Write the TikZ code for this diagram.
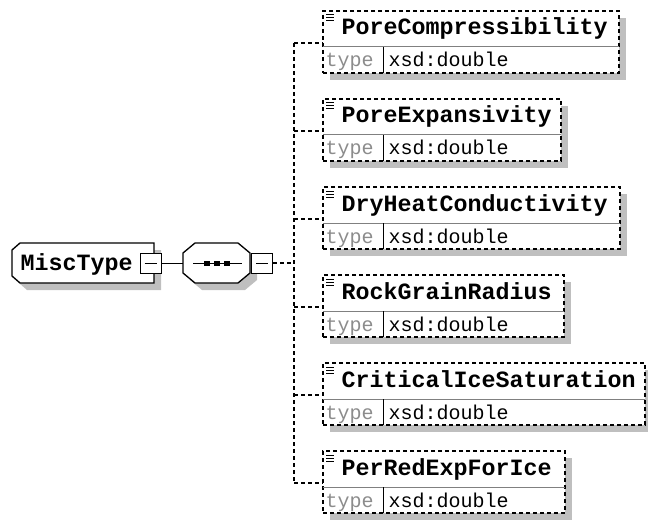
\documentclass[tikz,border=0pt]{standalone}
\usepackage{fontspec}
\newfontfamily\xmono{Liberation Mono}
\usetikzlibrary{fit,shadows}
\newcommand\hdfont{\xmono\bfseries\fontsize{17.5pt}{18pt}\selectfont}
\newcommand\tyfont{\xmono\fontsize{15pt}{16pt}\selectfont}
\definecolor{shadowgray}{gray}{0.75}
\definecolor{typegray}{gray}{0.55}
\definecolor{divgray}{gray}{0.5}
\begin{document}
\begin{tikzpicture}[x=0.75pt,y=-0.75pt,line width=0.75pt,
  dashconn/.style={line width=1pt,dash pattern=on 3pt off 2.25pt},
  elembox/.style={draw,fill=white,inner sep=0pt,line width=1pt,dash pattern=on 3pt off 2.25pt,
    drop shadow={shadow xshift=5.25pt,shadow yshift=-5.25pt,opacity=1,fill=shadowgray}},
  pmbox/.style={draw,fill=white,minimum width=15.75pt,minimum height=15pt,inner sep=0pt},
  label text/.style={anchor=base west,inner sep=0pt}]
\useasboundingbox (0,0) rectangle (648,520);

% MiscType (complex type)
\fill[shadowgray,shift={(7,7)}] (20,243) -- (154,243) -- (154,283) -- (20,283) -- (12,276) -- (12,250) -- cycle;
\draw[fill=white,line width=1pt] (20,243) -- (154,243) -- (154,283) -- (20,283) -- (12,276) -- (12,250) -- cycle;
\node[label text,font=\hdfont] (misc) at (20,270) {MiscType};
\node[pmbox] (miscbox) at (150.5,263) {};
\draw (miscbox.center) ++(-6,0) -- ++(12,0);

% sequence compositor
\fill[shadowgray,shift={(7,7)}] (195,243) -- (238,243) -- (250,253) -- (250,273) -- (238,283) -- (195,283) -- (183,273) -- (183,253) -- cycle;
\draw[fill=white,line width=1pt] (195,243) -- (238,243) -- (250,253) -- (250,273) -- (238,283) -- (195,283) -- (183,273) -- (183,253) -- cycle;
\node[fit={(183,243) (250,283)},inner sep=0pt] (seq) {};
\draw (193,263) -- (242,263);
\fill (204,260.5) rectangle (210,265.5);
\fill (214,260.5) rectangle (220,265.5);
\fill (224,260.5) rectangle (230,265.5);
\node[pmbox] (seqbox) at (262,263) {};
\draw (seqbox.center) ++(-6,0) -- ++(12,0);

% elements
\foreach \i/\name/\R in {1/PoreCompressibility/619,2/PoreExpansivity/561,3/DryHeatConductivity/620,4/RockGrainRadius/564,5/CriticalIceSaturation/645,6/PerRedExpForIce/565}{
  \pgfmathsetmacro\c{43+88*(\i-1)}
  \coordinate (v\i) at (294,\c);
  \node[elembox,fit={(323,\c-32) (\R,\c+30)}] (e\i) {};
  \draw[divgray] (323,\c+4) -- (\R,\c+4);
  \draw (383,\c+4) -- (383,\c+30);
  \draw (326,\c-28) -- (334,\c-28) (326,\c-25) -- (334,\c-25) (326,\c-22) -- (334,\c-22);
  \node[label text,font=\hdfont] (n\i) at (341,\c-8) {\name};
  \node[label text,font=\tyfont,text=typegray] (t\i) at (325,\c+24) {type};
  \node[label text,font=\tyfont] (x\i) at (388,\c+24) {xsd:double};
}

% connectors
\draw (miscbox.east) -- (seq.west);
\coordinate (v0) at (294,263);
\draw[dashconn] (seqbox.east) -- (v0);
\draw[dashconn] (v1) -- (v6);
\foreach \i in {1,...,6}{
  \draw[dashconn] (v\i) -- (v\i -| e\i.west);
}
\end{tikzpicture}
\end{document}
